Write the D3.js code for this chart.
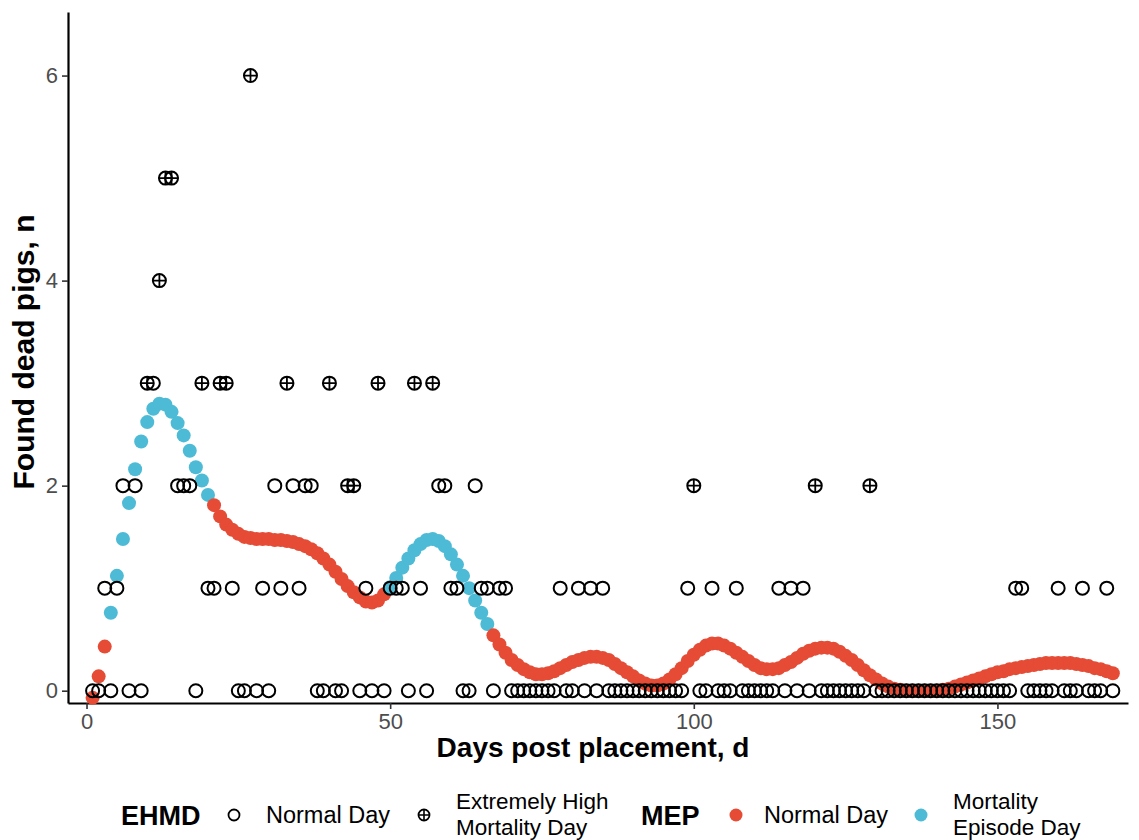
<!DOCTYPE html>
<html>
<head>
<meta charset="utf-8">
<script src="https://cdn.jsdelivr.net/npm/d3@7"></script>
<style>
  body { margin: 0; background: #fff; }
  text { font-family: "Liberation Sans", Arial, sans-serif; }
</style>
</head>
<body>
<div class="mortality-plot"></div>
<script>
// DATA - one value per day, day 1 .. 169
// found dead pigs per day (EHMD points)
const deadPigs = [
  0,0,1,0,1,2,0,2,0,3, 3,4,5,5,2,2,2,0,3,1,
  1,3,3,1,0,0,6,0,1,0, 2,1,3,2,1,2,2,0,0,3,
  0,0,2,2,0,1,0,3,0,1, 1,1,0,3,1,0,3,2,2,1,
  1,0,0,2,1,1,0,1,1,0, 0,0,0,0,0,0,0,1,0,0,
  1,0,1,0,1,0,0,0,0,0, 0,0,0,0,0,0,0,0,1,2,
  0,0,1,0,0,0,1,0,0,0, 0,0,0,1,0,1,0,1,0,2,
  0,0,0,0,0,0,0,0,2,0, 0,0,0,0,0,0,0,0,0,0,
  0,0,0,0,0,0,0,0,0,0, 0,0,1,1,0,0,0,0,0,1,
  0,0,0,1,0,0,0,1,0
];
// days flagged as extremely high mortality
const extremeDays = [10, 12, 13, 14, 19, 22, 23, 27, 33, 40, 43, 44, 48, 54, 57, 100, 120, 129];

// smoothed mortality (MEP points)
const mepValues = [
  -0.07,0.14,0.43,0.76,1.12,1.48,1.83,2.16,2.43,2.62,
  2.75,2.80,2.79,2.72,2.61,2.49,2.34,2.18,2.05,1.91,
  1.81,1.70,1.62,1.57,1.53,1.50,1.49,1.48,1.48,1.48,
  1.47,1.47,1.46,1.45,1.43,1.41,1.38,1.34,1.29,1.23,
  1.16,1.09,1.02,0.96,0.91,0.87,0.86,0.88,0.94,1.01,
  1.10,1.20,1.29,1.37,1.43,1.47,1.48,1.46,1.41,1.33,
  1.23,1.12,1.00,0.88,0.76,0.65,0.54,0.45,0.37,0.30,
  0.25,0.21,0.18,0.16,0.16,0.17,0.19,0.22,0.25,0.28,
  0.30,0.32,0.33,0.33,0.32,0.30,0.26,0.22,0.18,0.14,
  0.10,0.07,0.05,0.05,0.07,0.11,0.16,0.22,0.29,0.35,
  0.40,0.44,0.46,0.46,0.44,0.41,0.37,0.33,0.29,0.25,
  0.22,0.21,0.21,0.22,0.25,0.28,0.32,0.36,0.39,0.41,
  0.42,0.42,0.41,0.38,0.34,0.30,0.25,0.20,0.15,0.11,
  0.07,0.04,0.02,0.01,0.00,0.00,0.00,0.00,0.00,0.00,
  0.01,0.02,0.04,0.06,0.08,0.10,0.12,0.14,0.16,0.18,
  0.19,0.21,0.22,0.23,0.24,0.25,0.26,0.27,0.27,0.27,
  0.27,0.27,0.26,0.25,0.24,0.22,0.21,0.19,0.17
];
// mortality episode periods (first day, last day)
const episodes = [[4, 20], [50, 66]];

const xTicks = [0, 50, 100, 150];
const yTicks = [0, 2, 4, 6];

const red = '#E64B35', blue = '#4DBBD5';

let ehmd = deadPigs.map((n, i) => ({day: i + 1, n: n, extreme: extremeDays.includes(i + 1)}));
let mep = mepValues.map((v, i) => ({day: i + 1, v: v,
  episode: episodes.some(e => i + 1 >= e[0] && i + 1 <= e[1])}));

//CHART INIT
let outerWidth = 1139, outerHeight = 840;
let plot = {left: 68, right: 1128, top: 12, bottom: 703};

let svg = d3.select('.mortality-plot').append('svg')
  .attr('width', outerWidth)
  .attr('height', outerHeight);

const xScale = d3.scaleLinear()
  .domain([-3.05, 171.5])
  .range([plot.left, plot.right]);

const yScale = d3.scaleLinear()
  .domain([-0.12, 6.62])
  .range([plot.bottom, plot.top]);

// axes
svg.append('g')
  .attr('class', 'axis x-axis')
  .attr('transform', `translate(0, ${plot.bottom})`)
  .call(d3.axisBottom(xScale).tickValues(xTicks).tickSize(6).tickSizeOuter(0).tickPadding(4));

svg.append('g')
  .attr('class', 'axis y-axis')
  .attr('transform', `translate(${plot.left}, 0)`)
  .call(d3.axisLeft(yScale).tickValues(yTicks).tickFormat(d3.format('d'))
    .tickSize(6).tickSizeOuter(0).tickPadding(4));

svg.selectAll('.axis .domain').attr('stroke', '#000').attr('stroke-width', 2.2);
svg.selectAll('.axis .tick line').attr('stroke', '#333').attr('stroke-width', 1.6);
svg.selectAll('.axis .tick text')
  .attr('fill', '#4d4d4d')
  .style('font-size', '22px')
  .style('font-family', '"Liberation Sans", Arial, sans-serif');

// axis titles
svg.append('text')
  .attr('x', 593).attr('y', 757)
  .attr('text-anchor', 'middle')
  .style('font-size', '28px').style('font-weight', 'bold')
  .text('Days post placement, d');

svg.append('text')
  .attr('transform', 'translate(34, 352) rotate(-90)')
  .attr('text-anchor', 'middle')
  .style('font-size', '30px').style('font-weight', 'bold')
  .text('Found dead pigs, n');

// MEP points
svg.append('g').selectAll('circle')
  .data(mep)
  .enter().append('circle')
  .attr('cx', d => xScale(d.day))
  .attr('cy', d => yScale(d.v))
  .attr('r', 7)
  .attr('fill', d => d.episode ? blue : red);

// EHMD points
let ehmdG = svg.append('g').selectAll('g')
  .data(ehmd)
  .enter().append('g')
  .attr('transform', d => `translate(${xScale(d.day)}, ${yScale(d.n)})`);

ehmdG.append('circle')
  .attr('r', 6.5)
  .attr('fill', 'none')
  .attr('stroke', '#000')
  .attr('stroke-width', 2);

ehmdG.filter(d => d.extreme).append('path')
  .attr('d', 'M-6.5,0H6.5M0,-6.5V6.5')
  .attr('stroke', '#000')
  .attr('stroke-width', 1.8);

// LEGEND
let legend = svg.append('g').attr('class', 'legend');
const ly = 815;

legend.append('text').attr('x', 121).attr('y', ly + 10)
  .style('font-size', '27px').style('font-weight', 'bold').text('EHMD');
legend.append('circle').attr('cx', 234).attr('cy', ly).attr('r', 5.5)
  .attr('fill', 'none').attr('stroke', '#000').attr('stroke-width', 1.8);
legend.append('text').attr('x', 266).attr('y', ly + 8)
  .style('font-size', '23.5px').text('Normal Day');

legend.append('circle').attr('cx', 424).attr('cy', ly).attr('r', 5.5)
  .attr('fill', 'none').attr('stroke', '#000').attr('stroke-width', 1.8);
legend.append('path').attr('d', `M418.5,${ly}H429.5M424,${ly - 5.5}V${ly + 5.5}`)
  .attr('stroke', '#000').attr('stroke-width', 1.6);
legend.append('text').attr('x', 456).attr('y', ly - 6)
  .style('font-size', '22.5px').text('Extremely High');
legend.append('text').attr('x', 456).attr('y', ly + 20)
  .style('font-size', '22.5px').text('Mortality Day');

legend.append('text').attr('x', 641).attr('y', ly + 10)
  .style('font-size', '27px').style('font-weight', 'bold').text('MEP');
legend.append('circle').attr('cx', 736).attr('cy', ly).attr('r', 6.5).attr('fill', red);
legend.append('text').attr('x', 764).attr('y', ly + 8)
  .style('font-size', '23.5px').text('Normal Day');
legend.append('circle').attr('cx', 921).attr('cy', ly).attr('r', 6.5).attr('fill', blue);
legend.append('text').attr('x', 953).attr('y', ly - 6)
  .style('font-size', '22.5px').text('Mortality');
legend.append('text').attr('x', 953).attr('y', ly + 20)
  .style('font-size', '22.5px').text('Episode Day');
</script>
</body>
</html>
